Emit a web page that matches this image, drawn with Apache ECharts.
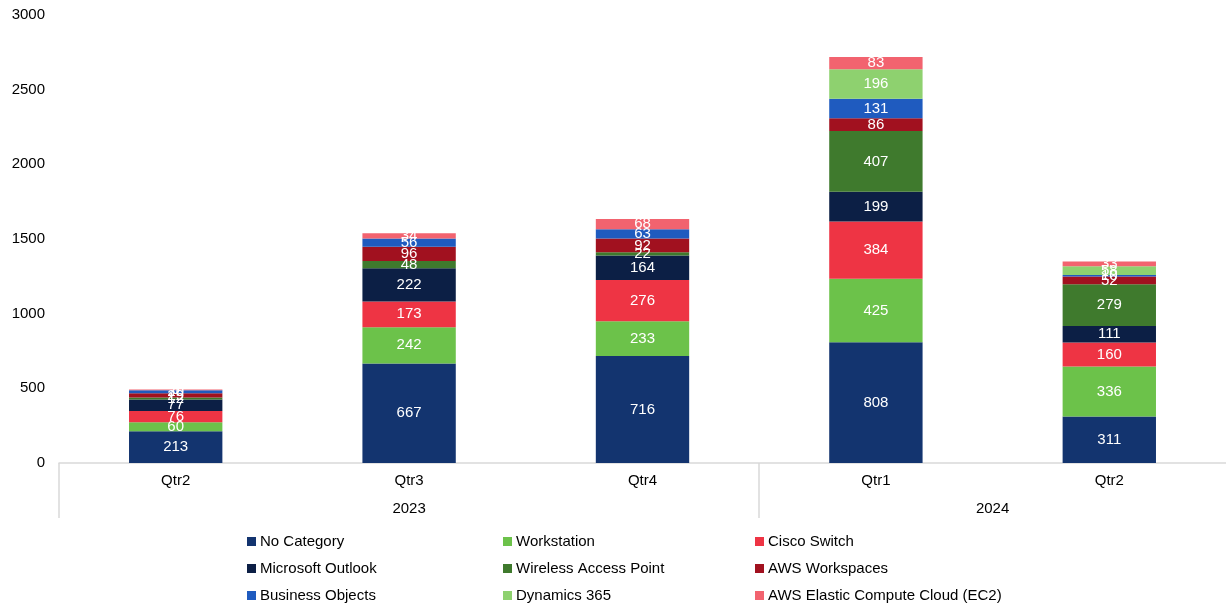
<!DOCTYPE html>
<html>
<head>
<meta charset="utf-8">
<script src="https://cdn.jsdelivr.net/npm/echarts@6/dist/echarts.min.js"></script>
<style>
  html, body { margin: 0; padding: 0; background: #fff; }
  #chart { width: 1226px; height: 606px; }
</style>
</head>
<body>
<div id="chart"></div>
<script>
// Quarter labels and the year each quarter belongs to
const quarters = ['Qtr2', 'Qtr3', 'Qtr4', 'Qtr1', 'Qtr2'];
const years = ['2023', '2023', '2023', '2024', '2024'];
const yearLabels = ['2023', '2024'];
const yTicks = [0, 500, 1000, 1500, 2000, 2500, 3000];

// Ticket counts per category (null = no tickets that quarter)
const noCategory       = [213, 667, 716, 808, 311];
const workstation      = [60, 242, 233, 425, 336];
const ciscoSwitch      = [76, 173, 276, 384, 160];
const microsoftOutlook = [77, 222, 164, 199, 111];
const wirelessAP       = [12, 48, 22, 407, 279];
const awsWorkspaces    = [29, 96, 92, 86, 52];
const businessObjects  = [20, 56, 63, 131, 10];
const dynamics365      = [null, null, null, 196, 58];
const awsEC2           = [5, 34, 68, 83, 33];

const seriesDefs = [
  ['No Category', noCategory, '#13346F'],
  ['Workstation', workstation, '#6CC24A'],
  ['Cisco Switch', ciscoSwitch, '#EE3444'],
  ['Microsoft Outlook', microsoftOutlook, '#0C1F45'],
  ['Wireless Access Point', wirelessAP, '#3F7A2D'],
  ['AWS Workspaces', awsWorkspaces, '#A1111F'],
  ['Business Objects', businessObjects, '#1F5BBF'],
  ['Dynamics 365', dynamics365, '#8ED16F'],
  ['AWS Elastic Compute Cloud (EC2)', awsEC2, '#F2636F']
];

const FONT = '"Liberation Sans", Arial, sans-serif';
const catKeys = quarters.map((q, i) => years[i] + ' ' + q);

const series = seriesDefs.map(([name, data, color]) => ({
  name,
  type: 'bar',
  stack: 'total',
  barWidth: '40%',
  data,
  itemStyle: { color },
  label: {
    show: true,
    position: 'inside',
    color: '#fff',
    fontSize: 15,
    fontFamily: FONT,
    formatter: p => (p.value == null ? '' : p.value)
  },
  labelLayout: { hideOverlap: false }
}));

// Legend: three columns of three entries
const legendCols = [
  { left: 247, names: [seriesDefs[0][0], seriesDefs[3][0], seriesDefs[6][0]] },
  { left: 503, names: [seriesDefs[1][0], seriesDefs[4][0], seriesDefs[7][0]] },
  { left: 755, names: [seriesDefs[2][0], seriesDefs[5][0], seriesDefs[8][0]] }
];
const legends = legendCols.map(c => ({
  left: c.left,
  top: 534,
  orient: 'vertical',
  itemWidth: 9,
  itemHeight: 9,
  itemGap: 12,
  icon: 'rect',
  padding: 0,
  selectedMode: false,
  textStyle: { fontSize: 15, color: '#000', fontFamily: FONT, padding: [0, 0, 0, -1] },
  data: c.names
}));

// Year groups, measured in half-category units along the axis
const groupStarts = [0, 6];
const groupCenters = [3, 8];

const chart = echarts.init(document.getElementById('chart'));
chart.setOption({
  animation: false,
  textStyle: { fontFamily: FONT },
  grid: { left: 59, right: 0, top: 15, bottom: 143 },
  legend: legends,
  xAxis: [
    {
      type: 'category',
      data: catKeys,
      axisLine: { lineStyle: { color: '#D9D9D9', width: 1.5 } },
      axisTick: { show: false },
      axisLabel: {
        color: '#000', fontSize: 15, margin: 10,
        formatter: (v, i) => quarters[i]
      }
    },
    {
      type: 'value',
      position: 'bottom',
      min: 0,
      max: 10,
      axisLine: { show: false },
      splitLine: { show: false },
      axisTick: {
        show: true,
        length: 55,
        customValues: groupStarts,
        lineStyle: { color: '#D9D9D9', width: 1.5 }
      },
      axisLabel: {
        color: '#000', fontSize: 15, margin: 38,
        customValues: groupCenters,
        formatter: v => yearLabels[groupCenters.indexOf(v)] || ''
      }
    }
  ],
  yAxis: {
    type: 'value',
    min: 0,
    max: 3000,
    interval: 500,
    axisLine: { show: false },
    axisTick: { show: false },
    splitLine: { show: false },
    axisLabel: {
      color: '#000', fontSize: 15, margin: 14,
      customValues: yTicks,
      formatter: v => String(v)
    }
  },
  series
});
</script>
</body>
</html>
